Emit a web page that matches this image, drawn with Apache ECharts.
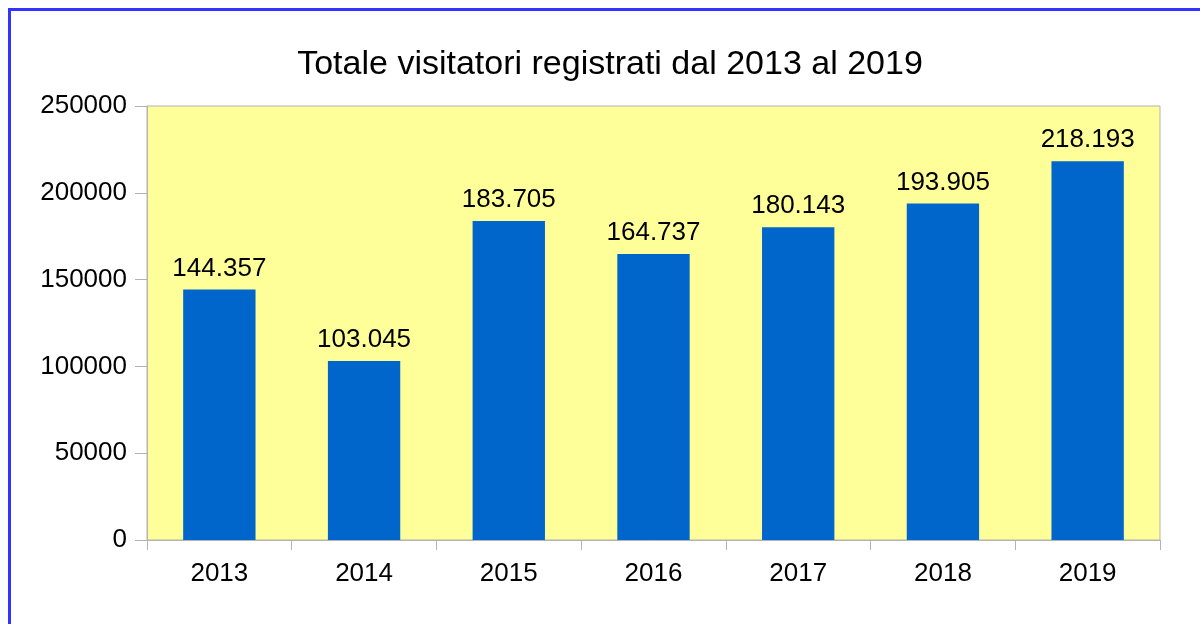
<!DOCTYPE html>
<html>
<head>
<meta charset="utf-8">
<script src="https://cdn.jsdelivr.net/npm/echarts@6/dist/echarts.min.js"></script>
<style>
  html, body { margin: 0; padding: 0; background: #fff; }
  #main { width: 1200px; height: 624px; }
</style>
</head>
<body>
<div id="main"></div>
<script>
var myChart = echarts.init(document.getElementById('main'));

// dati
var anni = ['2013', '2014', '2015', '2016', '2017', '2018', '2019'];
var visitatori = [144357, 103045, 183705, 164737, 180143, 193905, 218193];

// 144357 -> "144.357"
function puntini(v) {
    return String(v).replace(/\B(?=(\d{3})+(?!\d))/g, '.');
}

var font = 'Liberation Sans, Arial, sans-serif';

var option = {
    backgroundColor: '#ffffff',
    animation: false,
    title: {
        text: 'Totale visitatori registrati dal 2013 al 2019',
        left: 605,
        top: 43,
        textAlign: 'center',
        textStyle: { fontFamily: font, fontSize: 34, fontWeight: 'normal', color: '#000' }
    },
    graphic: [{
        type: 'rect',
        shape: { x: 9.5, y: 9.5, width: 1220, height: 640 },
        style: { fill: 'none', stroke: '#3333ff', lineWidth: 3 },
        silent: true
    }],
    grid: {
        left: 147, right: 40, top: 106, bottom: 84,
        show: true,
        backgroundColor: '#ffff99',
        borderColor: '#b3b3b3',
        borderWidth: 1
    },
    xAxis: {
        type: 'category',
        data: anni,
        axisLine: { lineStyle: { color: '#b3b3b3' } },
        axisTick: { show: true, length: 10, lineStyle: { color: '#b3b3b3' } },
        axisLabel: { margin: 21, fontFamily: font, fontSize: 26, color: '#000' }
    },
    yAxis: {
        type: 'value',
        min: 0,
        max: 250000,
        interval: 50000,
        splitLine: { show: false },
        axisLine: { show: true, lineStyle: { color: '#b3b3b3' } },
        axisTick: { show: true, length: 12, lineStyle: { color: '#b3b3b3' } },
        axisLabel: {
            margin: 20, fontFamily: font, fontSize: 26, color: '#000',
            formatter: function (v) { return String(v); }
        }
    },
    series: [{
        type: 'bar',
        data: visitatori,
        barWidth: '50%',
        itemStyle: { color: '#0066cc' },
        label: {
            show: true,
            position: 'top',
            distance: 8,
            fontFamily: font,
            fontSize: 26,
            color: '#000',
            formatter: function (p) { return puntini(p.value); }
        }
    }]
};

myChart.setOption(option);
</script>
</body>
</html>
